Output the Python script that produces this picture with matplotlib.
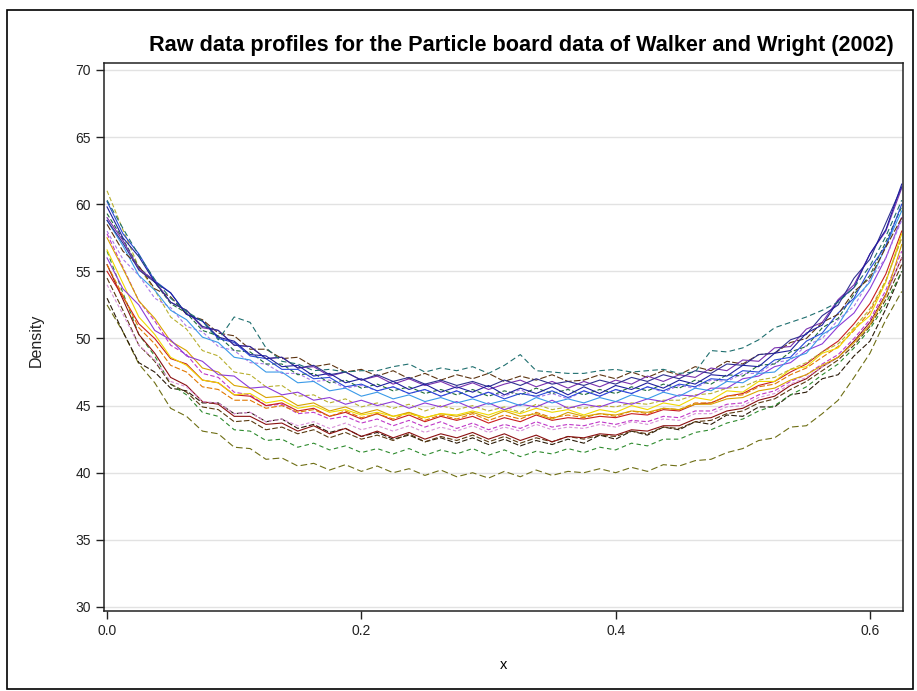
import numpy as np
import matplotlib
matplotlib.use("Agg")
import matplotlib.pyplot as plt
from matplotlib.patches import Rectangle

plt.rcParams['font.family'] = ['Liberation Sans', 'DejaVu Sans']

title = "Raw data profiles for the Particle board data of Walker and Wright (2002)"
x_label = "x"
y_label = "Density"
x_ticks = [0.0, 0.2, 0.4, 0.6]
x_tick_labels = ["0.0", "0.2", "0.4", "0.6"]
y_ticks = [30, 35, 40, 45, 50, 55, 60, 65, 70]

# sampling positions across the board thickness
x_pos = np.linspace(0.0, 0.625, 51)

teal = [60.3, 58.2, 56.2, 54.4, 53.0, 52.0, 51.3, 49.9, 51.6, 51.2, 49.3, 48.3, 48.1, 47.6, 47.7, 47.5, 47.6, 47.6, 47.9, 48.1, 47.5, 47.8, 47.6,
        47.9, 47.4, 48.0, 48.8, 47.6, 47.5, 47.4,
        47.4, 47.6, 47.7, 47.5, 47.6, 47.7, 47.4, 47.5, 49.1, 49.0, 49.3, 49.9, 50.8, 51.2, 51.6, 52.1, 52.7, 53.8, 55.4, 57.6, 60.3]
navy = [59.8, 57.5, 56.1, 54.2, 53.4, 51.8, 51.3, 50.1, 49.8, 48.8, 48.7, 47.9, 48.0, 47.2, 47.4, 46.7, 47.0, 46.4, 46.8, 46.2, 46.6, 46.0, 46.4,
        46.0, 46.5, 45.8, 46.3, 45.9, 46.4, 45.8,
        46.4, 45.9, 46.5, 46.2, 46.7, 46.3, 46.9, 46.6, 47.3, 47.2, 48.0, 47.9, 48.9, 49.1, 50.4, 51.0, 52.8, 53.8, 56.3, 58.1, 61.5]
purple = [59.0, 57.3, 55.2, 54.3, 52.7, 52.1, 50.8, 50.6, 49.5, 49.4, 48.5, 48.6, 47.8, 47.9, 47.2, 47.5, 46.9, 47.2, 46.6, 47.0, 46.5, 46.8, 46.3,
          46.7, 46.2, 46.6, 46.9, 46.4, 46.8, 46.3,
          46.8, 46.4, 46.9, 46.6, 47.2, 46.8, 47.3, 47.1, 47.8, 47.6, 48.4, 48.3, 49.3, 49.4, 50.7, 51.2, 52.9, 54.0, 56.3, 58.0, 61.2]
blue = [60.2, 57.8, 56.3, 54.3, 53.4, 51.8, 51.3, 50.0, 49.7, 48.7, 48.5, 47.7, 47.7, 47.0, 47.1, 46.4, 46.6, 46.1, 46.4, 45.9, 46.2, 45.7, 46.1,
        45.6, 46.0, 45.5, 45.9, 45.7, 46.1, 45.6,
        46.1, 45.7, 46.2, 45.9, 46.4, 46.1, 46.6, 46.4, 47.0, 46.9, 47.6, 47.5, 48.4, 48.6, 49.8, 50.4, 51.9, 53.0, 55.2, 56.9, 60.0]
dark_green = [59.3, 57.4, 55.3, 54.2, 52.6, 51.9, 50.6, 50.2, 49.1, 49.0, 48.1, 48.1, 47.3, 47.4, 46.7, 46.9, 46.3, 46.6, 46.1, 46.4, 45.9, 46.2, 45.8,
              46.2, 45.7, 46.1, 45.8, 46.3, 45.9, 46.2,
              45.8, 46.2, 45.9, 46.4, 46.1, 46.6, 46.3, 46.9, 46.6, 47.3, 47.2, 48.0, 48.1, 49.0, 49.4, 50.8, 51.5, 53.3, 54.7, 57.2, 59.8]
brown = [58.5, 56.5, 55.4, 53.7, 53.1, 51.8, 51.4, 50.4, 50.2, 49.2, 49.2, 48.5, 48.6, 47.9, 48.1, 47.5, 47.7, 47.2, 47.6, 47.0, 47.4, 46.9, 47.3,
         47.0, 47.4, 46.8, 47.2, 46.9, 47.3, 46.8,
         46.9, 47.3, 47.0, 47.5, 47.1, 47.6, 47.3, 47.9, 47.6, 48.3, 48.1, 48.8, 48.9, 49.7, 50.0, 51.2, 51.8, 53.5, 54.5, 56.8, 59.0]
light_blue = [58.8, 56.9, 54.7, 53.6, 52.1, 51.4, 50.1, 49.7, 48.6, 48.4, 47.5, 47.5, 46.7, 46.8, 46.1, 46.3, 45.7, 46.0, 45.5, 45.8, 45.3, 45.6, 45.2,
              45.5, 45.1, 45.4, 45.0, 45.6, 45.2, 45.5,
              45.2, 45.6, 45.3, 45.8, 45.5, 46.0, 45.7, 46.3, 46.1, 46.8, 46.7, 47.4, 47.5, 48.5, 48.9, 50.3, 51.0, 52.9, 54.2, 56.9, 59.5]
violet = [58.0, 55.9, 54.7, 53.0, 52.3, 50.9, 50.5, 49.4, 49.1, 48.2, 48.1, 47.4, 47.4, 46.8, 46.9, 46.3, 46.5, 46.1, 46.4, 45.9, 46.2, 45.7, 46.1,
          45.6, 46.0, 45.7, 46.2, 45.6, 45.9, 45.5,
          46.1, 45.7, 46.2, 45.9, 46.4, 46.0, 46.5, 46.3, 46.9, 46.8, 47.4, 47.4, 48.2, 48.4, 49.5, 50.0, 51.4, 52.4, 54.4, 56.0, 58.8]
slate = [58.8, 57.1, 55.1, 54.2, 52.7, 52.1, 50.9, 50.6, 49.5, 49.4, 48.5, 48.6, 47.8, 48.0, 47.3, 47.5, 46.9, 47.3, 46.8, 47.1, 46.6, 46.9, 46.5,
         46.8, 46.4, 46.9, 46.5, 47.0, 46.6, 46.8,
         46.5, 46.9, 46.6, 47.1, 46.8, 47.3, 47.0, 47.6, 47.4, 48.1, 48.0, 48.8, 48.9, 49.9, 50.3, 51.7, 52.5, 54.5, 55.9, 58.6, 61.3]
yellow = [56.6, 54.1, 51.6, 50.3, 48.6, 48.0, 46.9, 46.7, 45.8, 45.9, 45.2, 45.4, 44.8, 45.0, 44.5, 44.7, 44.3, 44.5, 44.2, 44.4, 44.1, 44.4, 44.3,
          44.6, 44.3, 44.7, 44.4, 44.8, 44.5, 44.7,
          44.3, 44.7, 44.5, 45.0, 44.7, 45.2, 45.0, 45.6, 45.4, 46.1, 46.0, 46.8, 46.8, 47.7, 47.9, 48.9, 49.3, 50.7, 51.7, 54.2, 57.8]
gold = [57.5, 55.2, 52.8, 51.5, 49.8, 49.1, 47.8, 47.5, 46.5, 46.3, 45.6, 45.7, 45.0, 45.2, 44.6, 44.9, 44.4, 44.7, 44.2, 44.5, 44.1, 44.4, 44.2,
        44.5, 44.1, 44.6, 44.2, 44.4, 44.0, 44.5,
        44.2, 44.4, 44.3, 44.6, 44.5, 44.8, 44.7, 45.1, 45.1, 45.5, 45.6, 46.1, 46.3, 46.9, 47.3, 48.0, 48.6, 49.7, 51.0, 53.2, 57.0]
orange = [55.5, 53.2, 50.8, 49.6, 48.0, 47.5, 46.4, 46.2, 45.4, 45.4, 44.8, 45.0, 44.5, 44.7, 44.2, 44.6, 44.1, 44.4, 44.0, 44.5, 43.9, 44.3, 44.0,
          44.4, 43.9, 44.3, 44.0, 44.5, 44.1, 44.3,
          44.1, 44.4, 44.2, 44.6, 44.4, 44.8, 44.7, 45.2, 45.2, 45.7, 45.8, 46.4, 46.6, 47.3, 47.8, 48.6, 49.4, 50.6, 52.0, 54.3, 57.5]
red = [55.0, 53.1, 51.1, 50.0, 48.5, 48.1, 46.9, 46.7, 45.8, 45.7, 45.0, 45.2, 44.6, 44.8, 44.2, 44.5, 44.0, 44.4, 43.9, 44.3, 43.8, 44.2, 43.9,
       44.2, 43.7, 44.1, 43.8, 44.3, 43.9, 44.1,
       44.0, 44.2, 44.1, 44.4, 44.3, 44.7, 44.6, 45.1, 45.2, 45.7, 45.9, 46.5, 46.8, 47.5, 48.1, 49.0, 49.8, 51.1, 52.6, 54.8, 58.0]
magenta = [57.8, 55.3, 52.8, 51.3, 49.5, 48.8, 47.4, 47.1, 46.0, 45.8, 45.0, 45.1, 44.4, 44.5, 44.0, 44.2, 43.7, 44.0, 43.5, 43.9, 43.4, 43.8, 43.3,
           43.7, 43.2, 43.6, 43.3, 43.8, 43.4, 43.6,
           43.5, 43.8, 43.6, 43.9, 43.8, 44.2, 44.1, 44.6, 44.6, 45.1, 45.2, 45.8, 46.1, 46.8, 47.3, 48.1, 48.8, 50.0, 51.4, 53.6, 56.5]
lavender = [54.0, 51.8, 49.5, 48.4, 46.8, 46.4, 45.3, 45.2, 44.4, 44.5, 43.8, 44.0, 43.5, 43.8, 43.3, 43.7, 43.2, 43.5, 43.1, 43.5, 43.0, 43.4, 43.1,
            43.5, 43.0, 43.4, 43.1, 43.6, 43.2, 43.4,
            43.3, 43.6, 43.4, 43.8, 43.6, 44.0, 43.9, 44.4, 44.4, 44.9, 45.0, 45.6, 45.9, 46.6, 47.1, 47.9, 48.6, 49.7, 51.1, 53.2, 56.0]
purple2 = [56.0, 53.7, 52.5, 50.6, 49.9, 48.7, 48.3, 47.3, 47.2, 46.3, 46.4, 45.8, 46.0, 45.4, 45.6, 45.1, 45.4, 45.0, 45.3, 44.8, 45.2, 44.9, 45.3,
           44.8, 45.2, 44.7, 45.1, 44.9, 45.4, 44.8,
           45.1, 44.9, 45.3, 45.1, 45.5, 45.3, 45.8, 45.7, 46.3, 46.3, 47.0, 47.2, 47.9, 48.2, 49.1, 49.6, 50.9, 51.9, 53.7, 56.0, 59.0]
dark_red = [55.5, 52.9, 50.3, 48.9, 47.1, 46.5, 45.3, 45.1, 44.2, 44.2, 43.6, 43.7, 43.1, 43.5, 42.9, 43.3, 42.7, 43.1, 42.6, 43.0, 42.5, 42.9, 42.6,
            43.0, 42.5, 42.9, 42.4, 42.8, 42.3, 42.7,
            42.6, 42.9, 42.8, 43.2, 43.1, 43.5, 43.5, 44.0, 44.1, 44.6, 44.8, 45.4, 45.7, 46.5, 47.0, 47.9, 48.6, 49.8, 51.2, 53.3, 56.0]
dark_brown = [54.5, 52.1, 49.5, 48.3, 46.6, 46.0, 44.9, 44.7, 43.8, 43.9, 43.2, 43.4, 42.9, 43.2, 42.6, 43.0, 42.5, 42.8, 42.4, 42.9, 42.3, 42.7, 42.4,
              42.8, 42.3, 42.7, 42.2, 42.6, 42.3, 42.7,
              42.5, 42.8, 42.7, 43.1, 42.9, 43.4, 43.3, 43.8, 43.9, 44.4, 44.6, 45.2, 45.5, 46.2, 46.8, 47.6, 48.4, 49.5, 50.9, 52.9, 55.5]
green = [56.5, 53.4, 50.3, 48.7, 46.6, 45.8, 44.5, 44.2, 43.2, 43.1, 42.4, 42.5, 41.9, 42.2, 41.7, 42.0, 41.5, 41.8, 41.4, 41.8, 41.3, 41.7, 41.4,
         41.8, 41.3, 41.7, 41.2, 41.6, 41.4, 41.8,
         41.5, 41.9, 41.7, 42.2, 42.0, 42.5, 42.5, 43.0, 43.2, 43.7, 44.0, 44.6, 45.0, 45.8, 46.4, 47.3, 48.1, 49.3, 50.7, 52.6, 55.0]
black = [53.0, 50.5, 48.2, 47.5, 46.3, 46.1, 45.2, 45.2, 44.4, 44.5, 43.8, 44.0, 43.3, 43.6, 43.0, 43.3, 42.7, 43.0, 42.5, 42.8, 42.3, 42.6, 42.2,
         42.6, 42.1, 42.5, 42.0, 42.4, 42.1, 42.5,
         42.2, 42.8, 42.5, 43.1, 42.8, 43.4, 43.2, 43.8, 43.6, 44.3, 44.2, 44.9, 44.9, 45.8, 46.0, 47.0, 47.3, 48.7, 49.8, 52.2, 55.0]
olive = [52.5, 50.5, 48.1, 46.7, 44.8, 44.2, 43.1, 42.9, 41.9, 41.8, 41.0, 41.1, 40.5, 40.7, 40.2, 40.6, 40.1, 40.5, 40.0, 40.3, 39.8, 40.2, 39.7,
         40.0, 39.6, 40.1, 39.7, 40.2, 39.8, 40.1,
         40.0, 40.3, 40.0, 40.4, 40.1, 40.6, 40.5, 40.9, 41.0, 41.5, 41.8, 42.4, 42.6, 43.4, 43.5, 44.4, 45.4, 47.1, 48.9, 51.4, 53.5]
khaki = [61.0, 58.1, 55.3, 53.6, 51.6, 50.7, 49.1, 48.7, 47.5, 47.3, 46.4, 46.5, 45.7, 45.8, 45.2, 45.5, 44.9, 45.2, 44.8, 45.1, 44.6, 45.0, 44.7,
         45.0, 44.6, 44.9, 44.5, 45.1, 44.7, 44.9,
         44.8, 45.0, 44.9, 45.2, 45.1, 45.4, 45.4, 45.8, 45.9, 46.3, 46.4, 46.9, 47.1, 47.7, 48.2, 49.0, 49.6, 50.8, 52.2, 54.3, 57.5]

# (values, colour, dash pattern or None for solid)
profiles = [
    (olive, "#6E6E14", (6, 3)),
    (black, "#2A1A08", (5, 2)),
    (green, "#2E8B2E", (4, 3)),
    (dark_brown, "#5A3A10", (5, 2)),
    (dark_red, "#8A1010", None),
    (lavender, "#D890D8", (3, 2)),
    (magenta, "#C038C8", (4, 2)),
    (red, "#C81E1E", None),
    (orange, "#E07800", (5, 2)),
    (gold, "#D8A400", None),
    (yellow, "#F0D800", None),
    (khaki, "#B8B030", (4, 2)),
    (purple2, "#8C3CD8", None),
    (violet, "#A878E8", (3, 2)),
    (light_blue, "#3A9AE8", None),
    (dark_green, "#1E6B3A", (4, 2)),
    (blue, "#2848D8", None),
    (brown, "#5C3310", (6, 2)),
    (purple, "#7A30B0", None),
    (slate, "#303090", None),
    (navy, "#1F1F9F", None),
    (teal, "#1F6F6F", (5, 3)),
]

W, H = 917, 691
fig = plt.figure(figsize=(W / 100, H / 100), dpi=100)
fig.patch.set_facecolor("white")

# outer frame
fig.add_artist(Rectangle((7 / W, 2 / H), (913 - 7) / W, (681 - 2) / H,
                         transform=fig.transFigure, fill=False,
                         edgecolor="black", linewidth=1.2))

ax = fig.add_axes([104 / W, 1 - 611 / H, (903 - 104) / W, (611 - 63) / H])
ax.set_xlim(-0.0024, 0.626)
ax.set_ylim(29.7, 70.52)

for yv in y_ticks:
    ax.axhline(yv, color="#E2E2E2", linewidth=1.0, zorder=0)

for vals, col, dash in profiles:
    if len(vals) != len(x_pos):
        raise ValueError("length mismatch")
    if dash is None:
        ax.plot(x_pos, vals, color=col, linewidth=0.8, zorder=2)
    else:
        ax.plot(x_pos, vals, color=col, linewidth=0.8, dashes=dash, zorder=2)

ax.set_xticks(x_ticks)
ax.set_xticklabels(x_tick_labels)
ax.set_yticks(y_ticks)
ax.tick_params(direction="out", length=6, width=1, labelsize=10, colors="#222222")
for s in ax.spines.values():
    s.set_linewidth(1.1)
    s.set_color("#222222")

ax.set_xlabel(x_label, fontsize=10.5, labelpad=14)
fig.text(36 / W, 1 - 340 / H, y_label, rotation=90, ha="center", va="center",
         fontsize=11.5, color="#222222")
fig.text(521 / W, 1 - 45 / H, title, ha="center", va="center",
         fontsize=15.6, fontweight="bold")

fig.savefig("out.png", dpi=100)
